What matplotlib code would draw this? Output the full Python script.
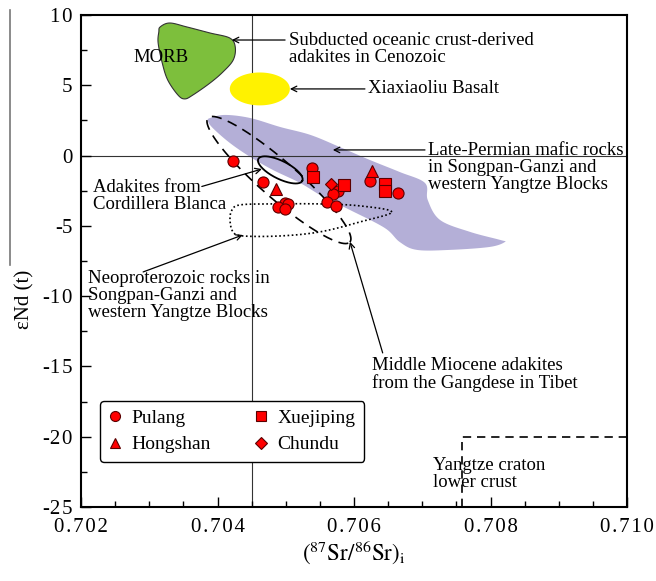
#!/usr/bin/env python3
"""Sr-Nd isotope diagram: eNd(t) vs initial 87Sr/86Sr."""

import matplotlib
matplotlib.use("Agg")
import matplotlib.pyplot as plt
import numpy as np
from matplotlib.lines import Line2D
from matplotlib.ticker import FuncFormatter, MultipleLocator

plt.rcParams["font.family"] = ["Liberation Serif", "DejaVu Serif"]
plt.rcParams["mathtext.fontset"] = "stix"
plt.rcParams["axes.unicode_minus"] = False

# ---- sample data ----
PULANG_SR = [0.70423, 0.70467, 0.70499, 0.70504, 0.70488, 0.70499, 0.70539,
             0.70576, 0.70569, 0.70560, 0.70573, 0.70624, 0.70664]
PULANG_ND = [-0.38, -1.86, -3.39, -3.44, -3.68, -3.82, -0.86,
             -2.52, -2.75, -3.28, -3.56, -1.78, -2.68]
HONGSHAN_SR = [0.70485, 0.70626]
HONGSHAN_ND = [-2.38, -1.10]
XUEJIPING_SR = [0.70540, 0.70585, 0.70646, 0.70646]
XUEJIPING_ND = [-1.50, -2.09, -2.02, -2.50]
CHUNDU_SR = [0.70566]
CHUNDU_ND = [-2.04]

# ---- reference fields ----
MORB_SR = [0.70316, 0.70330, 0.70355, 0.70389, 0.70418, 0.70426, 0.70423, 0.70408,
           0.70389, 0.70364, 0.70352, 0.70342, 0.70327, 0.70319, 0.70313, 0.70314]
MORB_ND = [9.15, 9.43, 9.15, 8.72, 8.36, 7.72, 6.80, 5.95,
           5.16, 4.31, 4.03, 4.31, 5.38, 6.59, 8.01, 8.79]

PERMIAN_SR = [0.70389, 0.70411, 0.70448, 0.70492, 0.70536, 0.70579, 0.70623, 0.70667,
              0.70704, 0.70708, 0.70726, 0.70770, 0.70814, 0.70821, 0.70799, 0.70741,
              0.70692, 0.70667, 0.70645, 0.70594, 0.70555, 0.70521, 0.70481, 0.70448,
              0.70418, 0.70393, 0.70386]
PERMIAN_ND = [2.67, 2.89, 2.67, 2.03, 1.47, 0.61, -0.31, -1.17,
              -1.95, -3.16, -4.58, -5.43, -6.00, -6.15, -6.50, -6.71,
              -6.71, -6.15, -5.15, -3.87, -2.94, -1.95, -1.02, -0.10,
              0.90, 1.96, 2.46]

NEOPRO_SR = [0.706557, 0.706088, 0.705502, 0.704769, 0.704330, 0.704212, 0.704183,
             0.704227, 0.704374, 0.704916, 0.705502, 0.706088]
NEOPRO_ND = [-4.01, -3.58, -3.44, -3.44, -3.51, -3.87, -4.58,
             -5.43, -5.72, -5.72, -5.43, -4.72]

# ellipses: centre, half-axis vector 1, half-axis vector 2 (data units)
XIAXIAOLIU = ((0.70462, 4.74), (0.00044, 0.0), (0.0, 1.17))
CORDILLERA = ((0.70492, -1.02), (0.000322, -0.78), (-0.0000586, -0.57))
GANGDESE = ((0.70490, -1.74), (0.00104, -4.41), (0.000176, 1.00))

YANGTZE_SR = 0.70758
YANGTZE_ND = -20.0

XLIM = (0.702, 0.710)
YLIM = (-25, 10)


def _ellipse(spec, n=200):
    (cx, cy), (ax1, ay1), (ax2, ay2) = spec
    t = np.linspace(0, 2 * np.pi, n)
    return cx + ax1 * np.cos(t) + ax2 * np.sin(t), cy + ay1 * np.cos(t) + ay2 * np.sin(t)


def _smooth_closed(xs, ys, n=12):
    """Closed Catmull-Rom outline through the given vertices (axis-normalised)."""
    sx, sy = XLIM[1] - XLIM[0], YLIM[1] - YLIM[0]
    p = np.column_stack([np.asarray(xs) / sx, np.asarray(ys) / sy])
    m = len(p)
    out = []
    t = np.linspace(0, 1, n, endpoint=False)[:, None]
    for i in range(m):
        p0, p1, p2, p3 = p[i - 1], p[i], p[(i + 1) % m], p[(i + 2) % m]
        out.append(0.5 * (2 * p1 + (-p0 + p2) * t + (2 * p0 - 5 * p1 + 4 * p2 - p3) * t ** 2
                          + (-p0 + 3 * p1 - 3 * p2 + p3) * t ** 3))
    out = np.vstack(out + [out[0][:1]])
    return out[:, 0] * sx, out[:, 1] * sy


def _spaced(v, fmt):
    s = fmt % v
    sign = "-" if s.startswith("-") else ""
    return sign + "\u200a".join(s.lstrip("-"))


fig = plt.figure(figsize=(6.56, 5.81), dpi=100)
ax = fig.add_axes([0.1235, 0.1274, 0.8323, 0.8468])

px, py = _smooth_closed(PERMIAN_SR, PERMIAN_ND)
ax.fill(px, py, color="#b4afd7", lw=0, zorder=1)
mx, my = _smooth_closed(MORB_SR, MORB_ND)
ax.fill(mx, my, facecolor="#7dbf3c", edgecolor="#333333", lw=0.8, zorder=2)
ex, ey = _ellipse(XIAXIAOLIU)
ax.fill(ex, ey, color="#fff200", lw=0, zorder=2)

ax.axvline(0.7045, color="#333333", lw=0.8, zorder=1.5)
ax.axhline(0.0, color="#333333", lw=0.8, zorder=1.5)

ex, ey = _ellipse(CORDILLERA)
ax.plot(ex, ey, color="k", lw=1.3, zorder=3)
ex, ey = _ellipse(GANGDESE)
ax.plot(ex, ey, color="k", lw=1.2, ls=(0, (6, 4)), zorder=3)
nx, ny = _smooth_closed(NEOPRO_SR, NEOPRO_ND, n=6)
ax.plot(nx, ny, color="k", lw=1.2, ls=(0, (1, 1.5)), zorder=3)
ax.plot([YANGTZE_SR, YANGTZE_SR, XLIM[1]], [YLIM[0], YANGTZE_ND, YANGTZE_ND],
        color="k", lw=1.2, ls=(0, (5, 3.5)), zorder=3)

mk = dict(ls="none", mfc="#ff0000", mec="#5a0000", mew=0.8, zorder=5)
ax.plot(PULANG_SR, PULANG_ND, marker="o", ms=8, label="Pulang", **mk)
ax.plot(HONGSHAN_SR, HONGSHAN_ND, marker="^", ms=8.5, label="Hongshan", **mk)
ax.plot(XUEJIPING_SR, XUEJIPING_ND, marker="s", ms=8, label="Xuejiping", **mk)
ax.plot(CHUNDU_SR, CHUNDU_ND, marker="D", ms=6.5, label="Chundu", **mk)

leg = ax.legend(ncol=2, loc="upper left", bbox_to_anchor=(0.035, 0.216),
                borderaxespad=0, fontsize=14, handlelength=0.6, handletextpad=0.55,
                columnspacing=2.3, labelspacing=0.45, borderpad=0.45,
                fancybox=True, framealpha=1, edgecolor="k", markerscale=0.9)
leg.get_frame().set_linewidth(1.0)

txt = dict(fontsize=13.5, linespacing=1.0, zorder=6)
arr = dict(arrowstyle="->", color="k", lw=0.9, shrinkA=0, shrinkB=0)

ax.text(0.70317, 7.01, "MORB", ha="center", va="center", **txt)
ax.text(0.70505, 7.58, "Subducted oceanic crust-derived\nadakites in Cenozoic",
        ha="left", va="center", **txt)
ax.annotate("", xy=(0.70421, 8.22), xytext=(0.70499, 8.22), arrowprops=arr)
ax.text(0.70621, 4.74, "Xiaxiaoliu Basalt", ha="left", va="center", **txt)
ax.annotate("", xy=(0.70506, 4.74), xytext=(0.70616, 4.74), arrowprops=arr)
ax.text(0.70708, -0.88, "Late-Permian mafic rocks\nin Songpan-Ganzi and\nwestern Yangtze Blocks",
        ha="left", va="center", **txt)
ax.annotate("", xy=(0.70569, 0.40), xytext=(0.70704, 0.40), arrowprops=arr)
ax.text(0.70218, -2.87, "Adakites from\nCordillera Blanca", ha="left", va="center", **txt)
ax.annotate("", xy=(0.70465, -0.96), xytext=(0.70377, -2.2), arrowprops=arr)
ax.text(0.70210, -9.99, "Neoproterozoic rocks in\nSongpan-Ganzi and\nwestern Yangtze Blocks",
        ha="left", va="center", **txt)
ax.annotate("", xy=(0.70437, -5.65), xytext=(0.70291, -8.28), arrowprops=arr)
ax.text(0.70626, -15.6, "Middle Miocene adakites\nfrom the Gangdese in Tibet",
        ha="left", va="center", **txt)
ax.annotate("", xy=(0.70594, -6.13), xytext=(0.70642, -14.04), arrowprops=arr)
ax.text(0.70716, -22.65, "Yangtze craton\nlower crust", ha="left", va="center", **txt)

ax.set_xlim(*XLIM)
ax.set_ylim(*YLIM)
ax.xaxis.set_major_locator(MultipleLocator(0.002))
ax.xaxis.set_minor_locator(MultipleLocator(0.0005))
ax.yaxis.set_major_locator(MultipleLocator(5))
ax.yaxis.set_minor_locator(MultipleLocator(2.5))
ax.xaxis.set_major_formatter(FuncFormatter(lambda v, p: _spaced(v, "%.3f")))
ax.yaxis.set_major_formatter(FuncFormatter(lambda v, p: _spaced(v, "%d")))
ax.tick_params(which="both", direction="in", labelsize=15, width=1)
ax.tick_params(which="major", length=7)
ax.tick_params(axis="x", which="major", pad=8)
ax.tick_params(axis="y", which="major", pad=6)
ax.tick_params(which="minor", length=4)
for s in ax.spines.values():
    s.set_linewidth(1.5)

fig.text(0.5396, 0.049, r"$(^{87}\mathrm{Sr}/^{86}\mathrm{Sr})_\mathrm{i}$",
         ha="center", va="center", fontsize=16.5)
fig.text(0.038, 0.484, "εNd (t)", rotation=90, ha="center", va="center", fontsize=15)
fig.add_artist(Line2D([0.0152, 0.0152], [0.983, 0.544], color="#777777", lw=1.2))

fig.savefig("out.png", dpi=100)
